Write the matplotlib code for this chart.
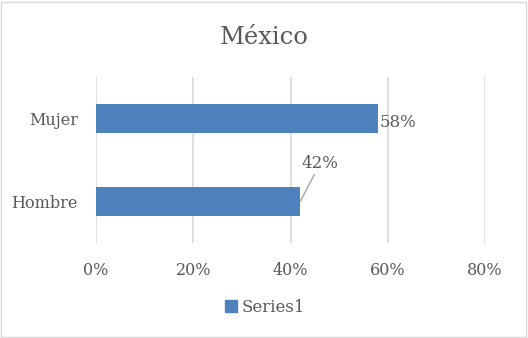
import matplotlib.pyplot as plt
from matplotlib.patches import Rectangle

categories = ["Hombre", "Mujer"]
values = [0.42, 0.58]
xticks = [0, 0.2, 0.4, 0.6, 0.8]
series_name = "Series1"
title = "México"

text_color = "#595959"
bar_color = "#4f81bd"
grid_color = "#d9d9d9"

plt.rcParams['font.family'] = ['DejaVu Serif']

fig = plt.figure(figsize=(5.28, 3.38), dpi=100)
# axes placed in pixel terms: x 96..485, y 77..243 (from top)
W, H = 528, 338
ax = fig.add_axes([96 / W, (H - 243) / H, (485 - 96) / W, (243 - 77) / H])

ypos = list(range(len(categories)))
bars = ax.barh(ypos, values, height=0.35, color=bar_color, zorder=3)

ax.set_xlim(0, 0.8)
ax.set_ylim(-0.5, 1.5)
ax.set_xticks(xticks)
ax.set_xticklabels([f"{int(round(t * 100))}%" for t in xticks])
ax.set_yticks(ypos)
ax.set_yticklabels(categories)
ax.tick_params(axis='both', length=0, colors=text_color, labelsize=11.5)
ax.tick_params(axis='x', pad=14)
ax.tick_params(axis='y', pad=13)
ax.grid(axis='x', color=grid_color, linewidth=1.2, zorder=0)
for s in ax.spines.values():
    s.set_visible(False)

# data labels
ax.annotate(f"{values[1]:.0%}", xy=(values[1], 1), xytext=(1, -3),
            textcoords='offset points', ha='left', va='center',
            color=text_color, fontsize=12)
ax.annotate(f"{values[0]:.0%}", xy=(values[0], 0), xytext=(values[0] + 0.0035, 0.36),
            textcoords='data', ha='left', va='bottom',
            color=text_color, fontsize=12,
            arrowprops=dict(arrowstyle='-', color='#a6a6a6', lw=1,
                            shrinkA=0, shrinkB=0))

fig.text(0.5, (H - 37) / H, title, ha='center', va='center',
         fontsize=17.5, color=text_color)

leg = fig.legend([Rectangle((0, 0), 1, 1, color=bar_color)], [series_name],
                 loc='center', bbox_to_anchor=(265 / W, (H - 307) / H),
                 frameon=False, fontsize=12, handlelength=0.7, handleheight=0.7,
                 handletextpad=0.3, labelcolor=text_color)

# light border around the chart area
fig.patches.append(Rectangle((1 / W, 1 / H), 1 - 3 / W, 1 - 3 / H,
                             transform=fig.transFigure, fill=False,
                             edgecolor='#d9d9d9', linewidth=1))

fig.savefig("out.png", dpi=100)
